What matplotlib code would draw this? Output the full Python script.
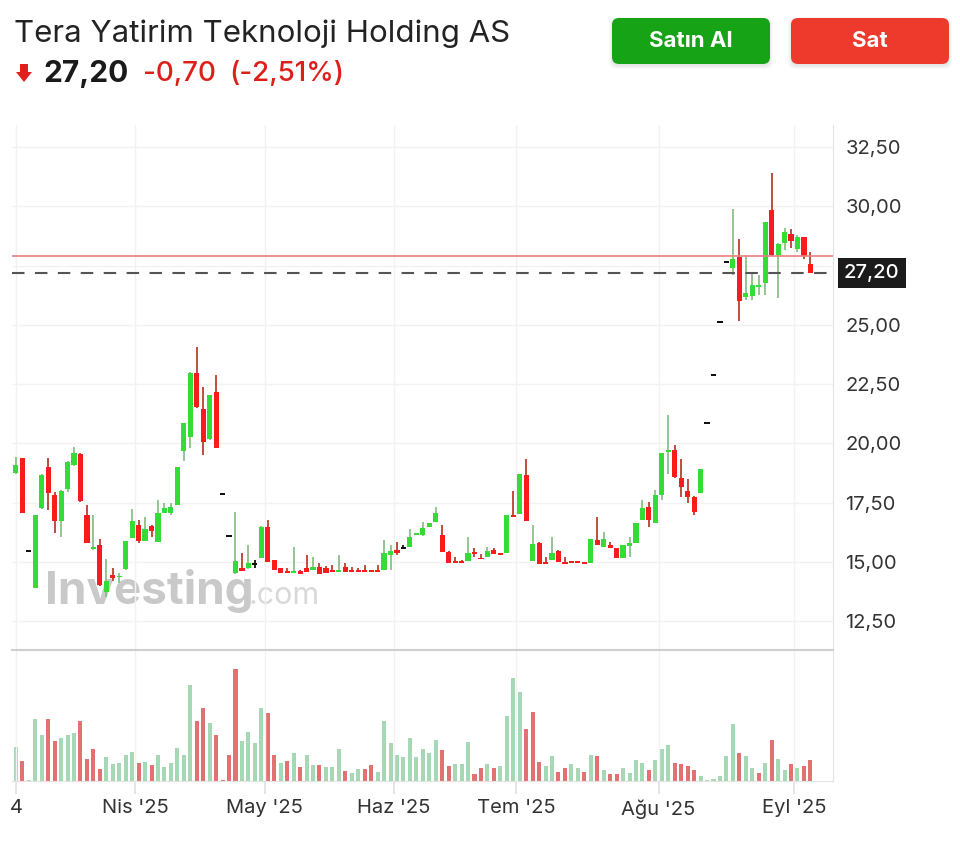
import numpy as np
import matplotlib
matplotlib.use("Agg")
import matplotlib.pyplot as plt
from matplotlib.patches import FancyBboxPatch, Polygon

plt.rcParams['font.family'] = ['Inter', 'DejaVu Sans']

#%% data (daily bars, Mar 4 - Sep 3 2025)
opens = [18.77, 19.37, 15.45, 13.90, 17.27, 19.02, 17.83, 16.75, 18.08, 19.09,
         19.56, 16.99, 15.53, 15.72, 13.73, 14.46, 14.37, 14.70, 16.00, 16.56,
         15.90, 16.50, 15.83, 17.08, 17.06, 17.41, 19.70, 20.29, 22.96, 21.44,
         20.17, 22.18, 17.87, 16.10, 14.53, 14.76, 14.74, 14.92, 15.16, 16.47,
         15.07, 14.74, 14.58, 14.55, 14.64, 14.74, 14.67, 14.80, 14.74, 14.66,
         14.60, 14.78, 14.66, 14.64, 14.65, 14.64, 14.66, 14.66, 15.30, 15.51,
         15.58, 15.65, 16.15, 16.14, 16.46, 16.70, 16.14, 15.44, 15.06, 15.02,
         15.06, 15.44, 15.17, 15.23, 15.51, 15.37, 15.40, 16.99, 17.03, 18.67,
         15.06, 15.79, 15.00, 15.09, 15.48, 15.00, 15.02, 15.00, 14.96, 14.95,
         15.93, 15.65, 15.72, 15.58, 15.16, 15.68, 15.79, 16.78, 17.34, 16.63,
         17.83, 19.62, 19.73, 18.53, 18.01, 17.76, 17.90, 20.85, 22.88, 25.13,
         27.64, 27.39, 27.85, 26.19, 26.22, 26.61, 26.78, 29.84, 27.95, 28.44,
         28.83, 28.19, 28.69, 27.55]
highs = [19.42, 19.40, 15.45, 17.00, 18.70, 19.38, 17.97, 18.05, 19.25, 19.84,
         19.61, 17.41, 16.99, 15.96, 15.12, 14.74, 14.53, 15.90, 17.22, 16.78,
         16.89, 16.56, 17.62, 17.48, 17.48, 19.02, 20.85, 23.00, 24.08, 22.37,
         22.05, 22.89, 17.87, 16.10, 17.13, 15.37, 15.72, 15.09, 16.50, 16.78,
         15.10, 14.76, 14.74, 15.65, 14.65, 15.30, 15.20, 14.95, 14.85, 14.88,
         15.30, 14.98, 14.80, 14.74, 14.88, 14.66, 14.88, 15.93, 15.72, 15.83,
         15.72, 16.38, 16.22, 16.70, 16.65, 17.34, 16.56, 15.45, 15.20, 15.07,
         16.05, 15.58, 15.35, 15.62, 15.60, 15.38, 16.99, 18.01, 18.72, 19.33,
         16.56, 15.85, 15.23, 16.05, 15.50, 15.20, 15.05, 15.06, 14.96, 15.96,
         16.89, 16.28, 15.86, 15.58, 15.72, 16.07, 16.63, 17.62, 17.55, 18.04,
         19.60, 21.20, 19.94, 19.33, 18.49, 17.80, 18.91, 20.85, 22.88, 25.13,
         27.64, 29.87, 28.61, 27.95, 27.24, 27.10, 29.36, 31.39, 28.45, 29.07,
         29.03, 28.79, 28.72, 28.08]
lows = [18.72, 17.05, 15.45, 13.90, 17.25, 17.20, 16.24, 16.07, 17.97, 19.05,
        17.55, 15.80, 15.50, 14.00, 13.54, 14.22, 14.11, 14.68, 16.00, 15.80,
        15.88, 16.07, 15.83, 17.05, 16.99, 17.41, 19.27, 19.80, 21.50, 19.50,
        20.15, 19.80, 17.87, 16.10, 14.50, 14.63, 14.72, 14.74, 15.15, 15.02,
        14.66, 14.53, 14.55, 14.55, 14.50, 14.60, 14.67, 14.50, 14.53, 14.60,
        14.60, 14.60, 14.60, 14.60, 14.60, 14.60, 14.60, 14.66, 14.66, 15.30,
        15.58, 15.65, 16.15, 16.10, 16.46, 16.70, 15.44, 14.98, 14.98, 14.98,
        15.06, 15.23, 15.12, 15.23, 15.33, 15.30, 15.40, 16.91, 17.03, 16.75,
        15.06, 14.92, 14.94, 15.09, 15.02, 14.94, 15.00, 14.98, 14.94, 14.95,
        15.70, 15.65, 15.58, 15.16, 15.16, 15.23, 15.79, 16.78, 16.47, 16.63,
        17.62, 18.70, 18.55, 17.76, 17.48, 16.99, 17.90, 20.85, 22.88, 25.13,
        27.64, 27.10, 25.18, 26.05, 26.05, 26.26, 26.26, 27.90, 26.12, 28.16,
        28.23, 28.07, 27.77, 27.20]
closes = [19.09, 17.08, 15.45, 17.00, 18.67, 17.93, 16.75, 18.01, 19.23, 19.59,
          17.59, 15.82, 15.65, 14.03, 14.22, 14.32, 14.40, 15.89, 16.71, 15.90,
          16.38, 16.29, 17.08, 17.27, 17.34, 19.02, 20.85, 22.96, 21.55, 20.08,
          22.04, 19.80, 17.87, 16.10, 15.06, 14.64, 14.98, 14.92, 16.47, 15.02,
          14.66, 14.53, 14.55, 14.64, 14.50, 14.60, 14.78, 14.50, 14.53, 14.60,
          14.66, 14.60, 14.60, 14.60, 14.60, 14.60, 14.60, 15.37, 15.48, 15.40,
          15.58, 16.05, 16.20, 16.43, 16.63, 17.06, 15.44, 14.98, 14.98, 14.98,
          15.37, 15.33, 15.12, 15.47, 15.33, 15.30, 16.99, 16.91, 18.72, 16.75,
          15.76, 14.92, 14.94, 15.37, 15.02, 14.94, 15.00, 14.98, 14.94, 15.96,
          15.72, 15.96, 15.58, 15.16, 15.72, 15.79, 16.63, 17.27, 16.78, 17.83,
          19.59, 19.72, 18.60, 18.18, 17.73, 17.12, 18.91, 20.85, 22.88, 25.13,
          27.64, 27.77, 26.02, 26.33, 26.68, 26.68, 29.35, 27.95, 28.41, 28.93,
          28.55, 28.69, 27.90, 27.20]
volumes = [34, 20, 1, 62, 46, 62, 40, 43, 46, 48,
           60, 21.7, 31.7, 11.7, 24, 17.3, 17.7, 25.7, 29.3, 17.7,
           19.3, 15.7, 25.7, 14, 17.7, 33.3, 25.7, 95.7, 60, 73.3,
           57.7, 45.7, 0.7, 25.7, 111.7, 40, 49.3, 37.7, 73.3, 67.7,
           25.7, 17.7, 20, 27.7, 14, 25.7, 15.7, 15.7, 14, 14,
           31.7, 10, 7.7, 11.7, 11.7, 15.7, 9.3, 60, 37.7, 25.7,
           24.3, 43, 23.5, 32.3, 28.3, 40.7, 30.7, 14.7, 16.7, 16.7,
           39, 6.7, 13, 16.7, 13, 14.7, 64.7, 102.3, 89, 52.3,
           69, 19, 14.7, 24.7, 9, 13, 16.7, 13, 9, 26.3,
           24.7, 10.7, 6.7, 6.7, 13, 8.3, 20.7, 18.3, 10.7, 20.7,
           32.3, 36.3, 18.3, 16.7, 14.7, 10.7, 4.7, 0.7, 2.3, 4.7,
           24.7, 56.7, 28.3, 24.7, 13, 8.3, 18.3, 40.7, 22.3, 10.7,
           16.7, 13, 14.7, 20.7]
vol_up = [1, 0, 1, 1, 1, 0, 0, 1, 1, 1,
          0, 0, 0, 0, 1, 1, 1, 1, 1, 0,
          1, 0, 1, 1, 1, 1, 1, 1, 0, 0,
          1, 0, 0, 0, 0, 1, 1, 1, 1, 0,
          0, 1, 0, 1, 0, 1, 1, 0, 1, 1,
          1, 0, 1, 1, 0, 0, 1, 1, 1, 1,
          1, 1, 1, 1, 1, 1, 0, 0, 1, 1,
          1, 0, 0, 1, 0, 1, 1, 1, 1, 0,
          0, 0, 1, 1, 0, 0, 1, 1, 0, 1,
          0, 1, 0, 0, 1, 1, 1, 1, 0, 1,
          1, 1, 0, 0, 0, 0, 1, 1, 1, 1,
          1, 1, 0, 1, 1, 0, 1, 0, 1, 1,
          0, 1, 0, 0]

month_labels = ["4", "Nis '25", "May '25", "Haz '25", "Tem '25", "Ağu '25", "Eyl '25"]
month_pos = [0, 18.5, 38.5, 58.5, 77.5, 99.5, 120.5]
price_ticks = [12.5, 15.0, 17.5, 20.0, 22.5, 25.0, 27.5, 30.0, 32.5]

title = "Tera Yatirim Teknoloji Holding AS"
last_price = 27.20
prev_close = 27.90
change = last_price - prev_close
change_pct = change / prev_close * 100

def tr(v, nd=2):
    return f"{v:.{nd}f}".replace('.', ',')

#%% figure
W, H = 960, 841
fig = plt.figure(figsize=(W / 100, H / 100), dpi=100)
fig.patch.set_facecolor('white')

L, R = 12, 833
top_p, bot_p, bot_v = 125, 650, 781
ax = fig.add_axes([L / W, 1 - bot_p / H, (R - L) / W, (bot_p - top_p) / H])
axv = fig.add_axes([L / W, 1 - bot_v / H, (R - L) / W, (bot_v - bot_p) / H], sharex=ax)
ax.set_facecolor('none')
axv.set_facecolor('none')

up_body, up_wick = '#35dc35', '#8cc08a'
dn_body, dn_wick = '#f81c1c', '#b8402f'

x = np.arange(len(opens))
for i in x:
    o, h, l, c = opens[i], highs[i], lows[i], closes[i]
    if c > o:
        bc, wc = up_body, up_wick
    elif c < o:
        bc, wc = dn_body, dn_wick
    else:
        bc, wc = '#111111', '#111111'
    if h > l:
        ax.vlines(i, l, h, color=wc, lw=1.3, zorder=3)
    hh = max(abs(c - o), 0.075)
    ax.bar(i, hh, width=0.8, bottom=min(o, c) if abs(c - o) > 0.075 else (o + c) / 2 - hh / 2,
           color=bc, lw=0, zorder=4)

ax.axhline(prev_close, color='#ec7f7f', lw=1.2, zorder=5)
ax.axhline(last_price, color='#555555', lw=1.5, ls=(0, (6, 5)), zorder=5)

ax.set_ylim(11.29, 33.43)
ax.set_xlim(-0.6, 126.5)
ax.yaxis.tick_right()
ax.set_yticks(price_ticks)
ax.set_yticklabels([tr(t) if t != 27.5 else '' for t in price_ticks])
ax.tick_params(axis='y', length=0, pad=9, labelsize=14.5, labelcolor='#333333')
ax.tick_params(axis='x', length=0, labelbottom=False)
ax.set_xticks(month_pos)
ax.grid(True, color='#f2f2f2', lw=1)
for s in ['top', 'left', 'bottom']:
    ax.spines[s].set_visible(False)
ax.spines['right'].set_color('#e3e3e3')

ax.annotate(tr(last_price), xy=(1.0, last_price), xycoords=('axes fraction', 'data'),
            xytext=(8, 0), textcoords='offset points', va='center', ha='left',
            fontsize=14.5, color='white', fontweight='medium', zorder=10,
            bbox=dict(boxstyle='square,pad=0.3', fc='#1b1b1b', ec='none'),
            annotation_clip=False)

# watermark
ax.text(0.040, 0.088, 'Investing', transform=ax.transAxes, fontsize=33, fontweight='bold',
        color='#c9c9c9', zorder=1, va='baseline')
ax.text(0.288, 0.088, '.com', transform=ax.transAxes, fontsize=22,
        color='#d9d9d9', zorder=1, va='baseline')

# volume
vcol = ['#a6d8b5' if u else '#e27272' for u in vol_up]
axv.bar(x, volumes, width=0.62, color=vcol, lw=0)
axv.set_ylim(0, max(volumes) * 1.17)
axv.set_yticks([])
axv.set_xticks(month_pos)
axv.set_xticklabels(month_labels)
axv.tick_params(axis='x', length=9, color='#e0e0e0', width=1.2, pad=4,
                labelsize=14.5, labelcolor='#333333')
axv.grid(True, axis='x', color='#f2f2f2', lw=1)
axv.spines['left'].set_visible(False)
axv.spines['top'].set_color('#cfcfcf')
axv.spines['top'].set_linewidth(1.5)
axv.spines['bottom'].set_color('#e3e3e3')
axv.spines['right'].set_color('#e3e3e3')

#%% header
hd = fig.add_axes([0, 0, 1, 1], zorder=-1)
hd.set_xlim(0, W)
hd.set_ylim(H, 0)
hd.axis('off')

hd.text(14, 34, title, fontsize=22.5, color='#232323', va='center', ha='left')
hd.add_patch(Polygon([(20, 64), (28, 64), (28, 72), (32, 72), (24, 82), (16, 72), (20, 72)],
                     closed=True, fc='#e0201c', ec='none'))
hd.text(43, 74, tr(last_price), fontsize=21.5, fontweight='bold', color='#1a1a1a', va='center')
hd.text(143, 74, tr(change), fontsize=20, fontweight='medium', color='#dc1f1a', va='center')
hd.text(229, 74, '(' + tr(change_pct) + '%)', fontsize=20, fontweight='medium',
        color='#dc1f1a', va='center')

for x0, fc, txt in [(612, '#16a316', 'Satın Al'), (791, '#ee3a2d', 'Sat')]:
    for k in range(4):
        hd.add_patch(FancyBboxPatch((x0 - k, 18 - k + 2), 158 + 2 * k, 46 + 2 * k,
                                    boxstyle='round,pad=0,rounding_size=7',
                                    fc='#000000', ec='none', alpha=0.025))
    hd.add_patch(FancyBboxPatch((x0, 18), 158, 46, boxstyle='round,pad=0,rounding_size=7',
                                fc=fc, ec='none'))
    hd.text(x0 + 79, 41, txt, fontsize=16, fontweight='bold', color='white',
            ha='center', va='center')

fig.savefig('out.png', dpi=100)
